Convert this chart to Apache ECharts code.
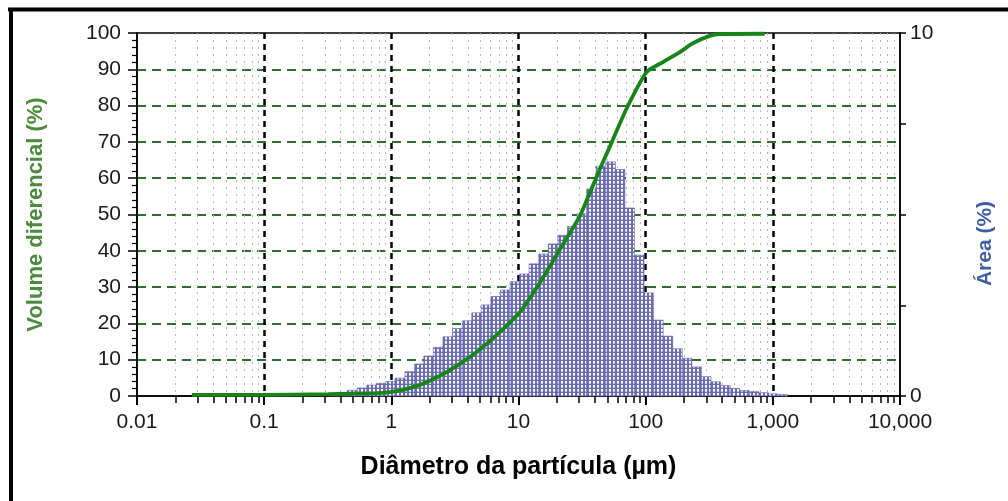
<!DOCTYPE html>
<html>
<head>
<meta charset="utf-8">
<title>Distribuição granulométrica</title>
<script src="https://cdn.jsdelivr.net/npm/echarts@6/dist/echarts.min.js"></script>
<style>
	html, body { margin: 0; padding: 0; background: #fff; }
	#chart { width: 1008px; height: 501px; }
</style>
</head>
<body>
<div id="chart"></div>
<script type="text/javascript">
	// limites dos canais (µm) do histograma
	var binEdges = [0.32, 0.38, 0.45, 0.54, 0.64, 0.76, 0.90, 1.07, 1.28, 1.52, 1.80, 2.14, 2.55, 3.03,
		3.61, 4.29, 5.10, 6.07, 7.21, 8.58, 10.2, 12.13, 14.43, 17.16, 20.4, 24.26, 28.85, 34.31, 40.8,
		48.52, 57.7, 68.6, 81.6, 97.0, 115.4, 137.2, 163.2, 194.1, 230.8, 274.5, 326.4, 388.2, 461.6,
		549, 653, 776, 923, 1098, 1306];
	// área (%) de cada canal (eixo da direita)
	var areaPct = [0.04, 0.10, 0.16, 0.22, 0.30, 0.35, 0.40, 0.49, 0.67, 0.88, 1.10, 1.34, 1.63, 1.86,
		2.07, 2.29, 2.51, 2.74, 2.92, 3.15, 3.36, 3.64, 3.91, 4.19, 4.43, 4.67, 5.02, 5.70, 6.33, 6.45,
		6.24, 5.18, 3.88, 2.84, 2.09, 1.65, 1.30, 1.04, 0.80, 0.53, 0.39, 0.29, 0.21, 0.15, 0.12, 0.09,
		0.06, 0.04];
	// curva acumulada (eixo da esquerda)
	var cumSize = [0.027, 0.09, 0.32, 0.47, 0.80, 1.16, 1.66, 2.39, 3.43, 4.93, 7.08, 10.2, 14.6, 21.0,
		30.2, 36.2, 43.4, 52.0, 70.8, 102, 137, 187, 233, 319, 383, 862];
	var cumVolume = [0.3, 0.3, 0.5, 0.6, 0.8, 1.5, 3.0, 5.5, 8.8, 12.7, 17.5, 23.0, 31.0, 40.2, 49.4,
		55.8, 62.3, 68.5, 79.2, 89.3, 92.0, 94.8, 97.1, 99.2, 99.7, 99.8];
	// marcas do eixo x
	var xDecades = [0.01, 0.1, 1, 10, 100, 1000, 10000];
	var xTickLabels = ['0.01', '0.1', '1', '10', '100', '1,000', '10,000'];
	var minorSteps = [2, 3, 4, 5, 6, 7, 8, 9];

	var font = 'Liberation Sans, Arial, sans-serif';

	var minorValues = [];
	for (var i = 0; i < xDecades.length - 1; i++) {
		for (var j = 0; j < minorSteps.length; j++) {
			minorValues.push(xDecades[i] * minorSteps[j]);
		}
	}

	var bins = [];
	for (var k = 0; k < areaPct.length; k++) {
		bins.push([binEdges[k], binEdges[k + 1], areaPct[k]]);
	}
	var cumData = [];
	for (var m = 0; m < cumSize.length; m++) {
		cumData.push([cumSize[m], cumVolume[m]]);
	}

	// textura pontilhada das barras
	var pat = document.createElement('canvas');
	pat.width = 4; pat.height = 4;
	var pc = pat.getContext('2d');
	pc.fillStyle = '#6c6cb4';
	pc.fillRect(0, 0, 4, 4);
	pc.fillStyle = '#ffffff';
	pc.fillRect(1, 1, 2, 2);
	pc.fillStyle = '#c8c8e6';
	pc.fillRect(1, 3, 2, 1);

	function decadeLabel(v) {
		var idx = Math.round(Math.log(v) / Math.LN10) + 2;
		return xTickLabels[idx] || '';
	}

	var myChart = echarts.init(document.getElementById('chart'));
	var option = {
		animation: false,
		backgroundColor: '#fff',
		grid: {
			left: 137, right: 108, top: 33, bottom: 105,
			show: true, borderColor: '#000', borderWidth: 1.5, backgroundColor: 'transparent'
		},
		graphic: [
			{ type: 'line', shape: { x1: 8, y1: 9.5, x2: 1008, y2: 9.5 }, style: { stroke: '#000', lineWidth: 4 } },
			{ type: 'line', shape: { x1: 11, y1: 8, x2: 11, y2: 501 }, style: { stroke: '#000', lineWidth: 4 } }
		],
		xAxis: [{
			type: 'log', logBase: 10, min: 0.01, max: 10000, position: 'bottom',
			axisLine: { show: true, lineStyle: { color: '#000', width: 1.5 } },
			axisTick: { show: true, inside: false, length: 9, customValues: xDecades, lineStyle: { color: '#000', width: 2 } },
			axisLabel: {
				customValues: xDecades, margin: 16, color: '#1a1a1a', fontSize: 21, fontFamily: font,
				formatter: decadeLabel
			},
			splitLine: { show: true, showMinLine: false, showMaxLine: false, lineStyle: { color: '#000', type: [6, 5], width: 2.5 } },
			name: 'Diâmetro da partícula (µm)', nameLocation: 'middle', nameGap: 59,
			nameTextStyle: { color: '#000', fontSize: 25, fontWeight: 'bold', fontFamily: font }
		}, {
			type: 'log', logBase: 10, min: 0.01, max: 10000, position: 'bottom',
			axisLine: { show: false },
			axisTick: { show: true, inside: false, length: 7, customValues: minorValues, lineStyle: { color: '#000', width: 1.5 } },
			axisLabel: { show: false },
			splitLine: { show: true, lineStyle: { color: '#b5b5c5', type: [2, 5], width: 1 } }
		}],
		yAxis: [{
			type: 'value', min: 0, max: 100, interval: 10, position: 'left',
			axisLine: { show: true, lineStyle: { color: '#000', width: 1.5 } },
			axisTick: { show: true, inside: false, length: 9, lineStyle: { color: '#000', width: 1.5 } },
			minorTick: { show: true, splitNumber: 5, length: 5, lineStyle: { color: '#000', width: 1.2 } },
			axisLabel: { margin: 16, color: '#1a1a1a', fontSize: 21, fontFamily: font },
			splitLine: { show: true, showMinLine: false, showMaxLine: false, lineStyle: { color: '#2f6e2f', type: [9, 6], width: 2 } },
			name: 'Volume diferencial (%)', nameLocation: 'middle', nameGap: 90, nameRotate: 90,
			nameTextStyle: { color: '#4b8b3b', fontSize: 22, fontWeight: 'bold', fontFamily: font }
		}, {
			type: 'value', min: 0, max: 10, interval: 2.5, position: 'right',
			axisLine: { show: true, lineStyle: { color: '#000', width: 1.5 } },
			axisTick: { show: true, inside: false, length: 6, lineStyle: { color: '#000', width: 1.5 } },
			axisLabel: {
				margin: 10, color: '#1a1a1a', fontSize: 21, fontFamily: font,
				formatter: function (v) { return (v === 0 || v === 10) ? String(v) : ''; }
			},
			splitLine: { show: false },
			name: 'Área (%)', nameLocation: 'middle', nameGap: 75, nameRotate: 90,
			nameTextStyle: { color: '#3f5fa3', fontSize: 21, fontWeight: 'bold', fontFamily: font, padding: [0, 58, 0, 0] }
		}],
		series: [{
			name: 'Área',
			type: 'custom',
			xAxisIndex: 0,
			yAxisIndex: 1,
			encode: { x: [0, 1], y: 2 },
			data: bins,
			renderItem: function (params, api) {
				var p0 = api.coord([api.value(0), 0]);
				var p1 = api.coord([api.value(1), api.value(2)]);
				return {
					type: 'rect',
					shape: { x: p0[0], y: p1[1], width: p1[0] - p0[0], height: p0[1] - p1[1] },
					style: { fill: { image: pat, repeat: 'repeat' }, stroke: '#6060a8', lineWidth: 0.6 }
				};
			},
			z: 2
		}, {
			name: 'Volume acumulado',
			type: 'line',
			xAxisIndex: 0,
			yAxisIndex: 0,
			data: cumData,
			smooth: 0.2,
			showSymbol: false,
			lineStyle: { color: '#178517', width: 3.8 },
			z: 3
		}]
	};
	myChart.setOption(option);
</script>
</body>
</html>
